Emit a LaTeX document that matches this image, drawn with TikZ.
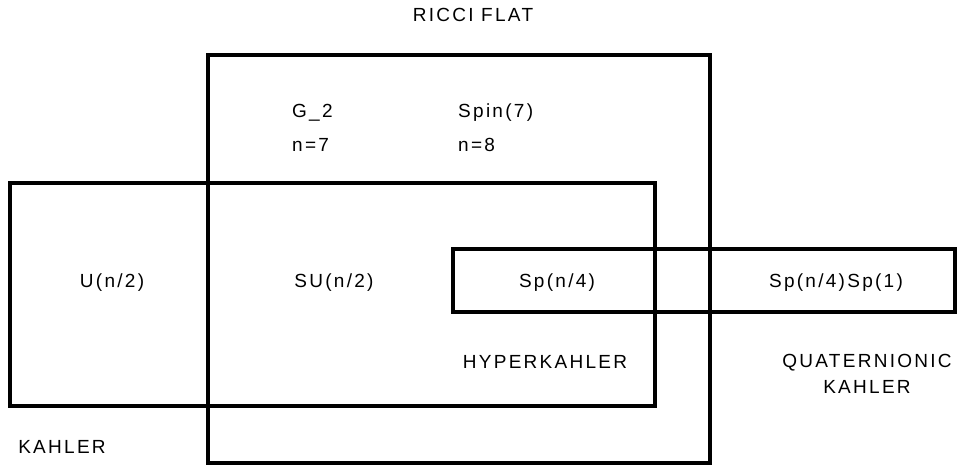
\documentclass[tikz,border=0pt]{standalone}
\usepackage{fontspec}
\setmainfont{Liberation Sans}[LetterSpace=12]
\usepackage{tikz}
\usetikzlibrary{positioning}

\begin{document}
\begin{tikzpicture}[x=1pt,y=-1pt,
    regionbox/.style={draw,line width=3.5pt,inner sep=0pt,outer sep=0pt},
    lbl/.style={inner sep=0pt,font=\fontsize{19}{26}\selectfont,anchor=base},
    lblw/.style={lbl,anchor=base west}]
    \useasboundingbox (0,0) rectangle (959,467);
    % the three regions
    \node[regionbox,minimum width=502pt,minimum height=408pt] (ricci) at (459,259) {};
    \node[regionbox,minimum width=645pt,minimum height=223pt] (kahler) at (332.5,294.5) {};
    \node[regionbox,minimum width=502pt,minimum height=63pt] (quat) at (704,280.5) {};
    % labels
    \node[lbl] (ricciname) at (473,21) {RICCI FLAT};
    \node[lblw] (gtwo) at (292,117) {G\_2};
    \node[lblw] (spinseven) at (458,117) {Spin(7)};
    \node[lblw] (nseven) at (292,151) {n=7};
    \node[lblw] (neight) at (458,151) {n=8};
    \node[lbl] (un) at (112,287) {U(n/2)};
    \node[lbl] (sun) at (334,287) {SU(n/2)};
    \node[lbl] (spn) at (557,287) {Sp(n/4)};
    \node[lbl] (spnspone) at (836,287) {Sp(n/4)Sp(1)};
    \node[lbl] (hypername) at (545,368) {HYPERKAHLER};
    \node[lbl,anchor=north,align=center] (quatname) at (867,354) {QUATERNIONIC\\KAHLER};
    \node[lbl] (kahlername) at (62,453) {KAHLER};
  \end{tikzpicture}
\end{document}
